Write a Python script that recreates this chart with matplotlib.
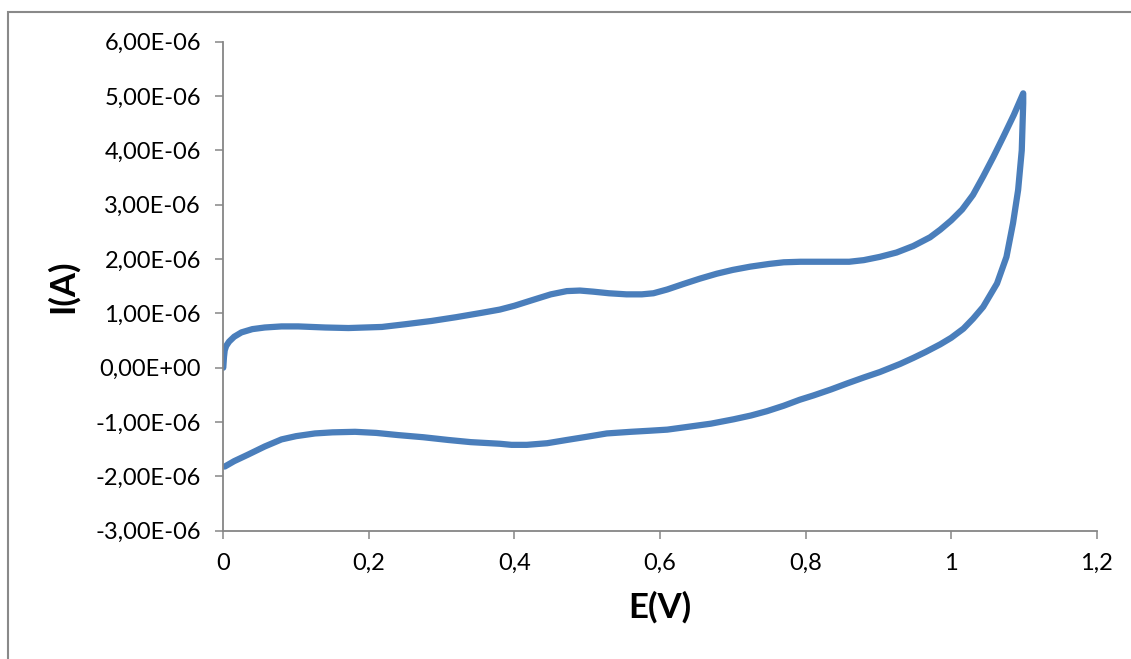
import matplotlib.pyplot as plt
from matplotlib.patches import Rectangle

# voltammogram: forward scan 0 -> 1.1 V, then back to 0 V
fwd_E = [0.000, 0.001, 0.002, 0.004, 0.008, 0.015, 0.025, 0.040, 0.057, 0.080,
         0.103, 0.140, 0.172, 0.218, 0.250, 0.286, 0.320, 0.355, 0.380, 0.400,
         0.426, 0.450, 0.472, 0.490, 0.508, 0.530, 0.554, 0.575, 0.591, 0.610,
         0.632, 0.655, 0.678, 0.700, 0.724, 0.750, 0.770, 0.793, 0.811, 0.840,
         0.860, 0.880, 0.902, 0.925, 0.948, 0.971, 0.985, 1.000, 1.015, 1.030,
         1.044, 1.058, 1.072, 1.086, 1.099]
fwd_I = [0.00, 0.20, 0.32, 0.40, 0.48, 0.57, 0.65, 0.71, 0.74, 0.76,
         0.76, 0.74, 0.73, 0.75, 0.80, 0.86, 0.93, 1.01, 1.07, 1.14,
         1.25, 1.35, 1.41, 1.42, 1.40, 1.37, 1.35, 1.35, 1.37, 1.44,
         1.54, 1.64, 1.73, 1.80, 1.86, 1.91, 1.94, 1.95, 1.95, 1.95,
         1.95, 1.98, 2.04, 2.12, 2.24, 2.40, 2.54, 2.71, 2.91, 3.18,
         3.52, 3.88, 4.26, 4.65, 5.05]

rev_E = [1.099, 1.099, 1.097, 1.092, 1.085, 1.076, 1.063, 1.044, 1.030, 1.017,
         1.000, 0.985, 0.965, 0.948, 0.930, 0.902, 0.880, 0.857, 0.835, 0.811,
         0.792, 0.770, 0.747, 0.725, 0.701, 0.670, 0.632, 0.610, 0.586, 0.560,
         0.527, 0.500, 0.472, 0.445, 0.417, 0.396, 0.380, 0.340, 0.309, 0.275,
         0.240, 0.210, 0.181, 0.150, 0.126, 0.100, 0.080, 0.057, 0.034, 0.015,
         0.002]
rev_I = [5.05, 4.87, 4.00, 3.27, 2.66, 2.04, 1.55, 1.12, 0.90, 0.72,
         0.55, 0.43, 0.29, 0.18, 0.07, -0.08, -0.18, -0.29, -0.40, -0.51,
         -0.59, -0.70, -0.80, -0.88, -0.95, -1.03, -1.10, -1.14, -1.16, -1.18,
         -1.21, -1.27, -1.33, -1.39, -1.42, -1.42, -1.40, -1.37, -1.33, -1.28,
         -1.24, -1.20, -1.18, -1.19, -1.21, -1.26, -1.32, -1.45, -1.60, -1.72,
         -1.82]

x_ticks = [0, 0.2, 0.4, 0.6, 0.8, 1.0, 1.2]
x_labels = ["0", "0,2", "0,4", "0,6", "0,8", "1", "1,2"]
y_ticks = [-3e-6, -2e-6, -1e-6, 0, 1e-6, 2e-6, 3e-6, 4e-6, 5e-6, 6e-6]
y_labels = ["-3,00E-06", "-2,00E-06", "-1,00E-06", "0,00E+00", "1,00E-06",
            "2,00E-06", "3,00E-06", "4,00E-06", "5,00E-06", "6,00E-06"]

E = fwd_E + rev_E
I = [v * 1e-6 for v in fwd_I + rev_I]

plt.rcParams["font.family"] = ["Lato", "DejaVu Sans"]
gray = "#868686"

fig = plt.figure(figsize=(11.31, 6.59), dpi=100)
ax = fig.add_axes([0.1974, 0.1947, 0.7723, 0.742])

ax.plot(E, I, color="#4A7EBB", lw=4.5, solid_capstyle="round", solid_joinstyle="round")

ax.set_xlim(0, 1.2)
ax.set_ylim(-3e-6, 6e-6)
ax.set_xticks(x_ticks)
ax.set_xticklabels(x_labels)
ax.set_yticks(y_ticks)
ax.set_yticklabels(y_labels)

for s in ["top", "right"]:
    ax.spines[s].set_visible(False)
for s in ["left", "bottom"]:
    ax.spines[s].set_color(gray)
    ax.spines[s].set_linewidth(1.3)

ax.tick_params(direction="out", length=6, width=1.1, color=gray,
               labelsize=17, labelcolor="black", pad=10)

ax.set_xlabel("E(V)", fontsize=25, fontweight="bold", labelpad=12)
ax.set_ylabel("I(A)", fontsize=25, fontweight="bold", labelpad=12)

# chart area frame
fig.add_artist(Rectangle((7.5 / 1131, -0.1), 1.2, 1 - 11.5 / 659 + 0.1,
                         transform=fig.transFigure, fill=False,
                         edgecolor="#898989", lw=1.5))

fig.savefig("out.png", dpi=100)
